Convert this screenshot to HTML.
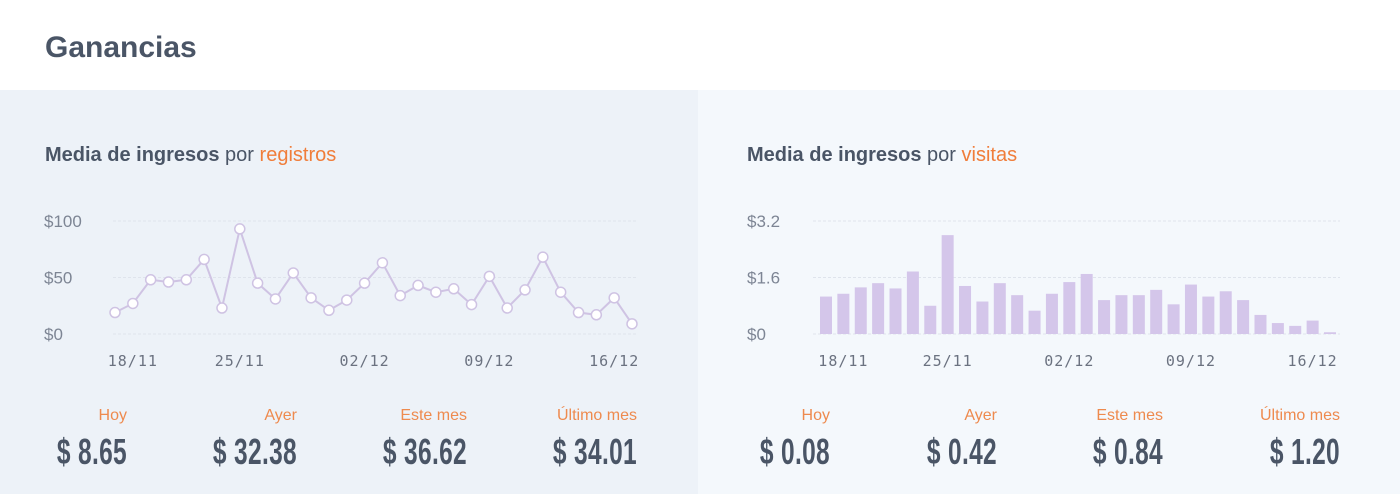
<!DOCTYPE html>
<html><head><meta charset="utf-8">
<style>
html,body{margin:0;padding:0;width:1400px;height:494px;overflow:hidden;background:#fff;font-family:"Liberation Sans",sans-serif}
#hdr{position:absolute;left:0;top:0;width:1400px;height:90px;background:#fff}
#title{position:absolute;left:45px;top:31px;font-size:30px;font-weight:bold;color:#4a5566;margin:0}
.panel{position:absolute;top:90px;height:404px}
#pl{left:0;width:698px;background:#edf2f8}
#pr{left:698px;width:702px;background:#f4f8fc}
.ptitle{position:absolute;top:54px;font-size:20px;color:#4a5566}
.ptitle b{font-weight:bold}
.ptitle .o{color:#f07d3a}
.stat{position:absolute;top:317px;width:160px;text-align:right}
.stat .l{font-size:16px;color:#ee8a4e;height:22px}
.stat .v{font-size:36px;font-weight:bold;color:#4a5566;transform:scaleX(0.68);transform-origin:right center;white-space:nowrap;margin-top:2px;letter-spacing:0.5px}
svg{position:absolute;left:0;top:0}
</style></head><body>
<div id="hdr"><h1 id="title">Ganancias</h1></div>

<div class="panel" id="pl">
  <div class="ptitle" style="left:45px"><b>Media de ingresos</b> por <span class="o">registros</span></div>
  <svg id="lineChart" width="698" height="404"></svg>
  <div class="stat" style="left:-33px"><div class="l">Hoy</div><div class="v">$ 8.65</div></div>
  <div class="stat" style="left:137px"><div class="l">Ayer</div><div class="v">$ 32.38</div></div>
  <div class="stat" style="left:307px"><div class="l">Este mes</div><div class="v">$ 36.62</div></div>
  <div class="stat" style="left:477px"><div class="l">Último mes</div><div class="v">$ 34.01</div></div>
</div>

<div class="panel" id="pr">
  <div class="ptitle" style="left:49px"><b>Media de ingresos</b> por <span class="o">visitas</span></div>
  <svg id="barChart" width="702" height="404"></svg>
  <div class="stat" style="left:-28px"><div class="l">Hoy</div><div class="v">$ 0.08</div></div>
  <div class="stat" style="left:139px"><div class="l">Ayer</div><div class="v">$ 0.42</div></div>
  <div class="stat" style="left:305px"><div class="l">Este mes</div><div class="v">$ 0.84</div></div>
  <div class="stat" style="left:482px"><div class="l">Último mes</div><div class="v">$ 1.20</div></div>
</div>

<script>
const lineValues = [19,27,48,46,48,66,23,93,45,31,54,32,21,30,45,63,34,43,37,40,26,51,23,39,68,37,19,17,32,9];
const lineTicks = [0,50,100];
const lineTickLabels = ["$0","$50","$100"];
const barValues = [1.06,1.14,1.32,1.44,1.29,1.77,0.80,2.80,1.36,0.92,1.44,1.10,0.66,1.14,1.47,1.70,0.96,1.10,1.10,1.25,0.84,1.40,1.06,1.21,0.96,0.54,0.31,0.23,0.38,0.05];
const barTicks = [0,1.6,3.2];
const barTickLabels = ["$0","$1.6","$3.2"];
const dateLabels = ["18/11","25/11","02/12","09/12","16/12"];
const dateIndices = [1,7,14,21,28];

const NS="http://www.w3.org/2000/svg";
function mk(p,tag,attrs){const e=document.createElementNS(NS,tag);for(const k in attrs)e.setAttribute(k,attrs[k]);p.appendChild(e);return e;}

function axes(svg,gx0,gx1,y0,y1,max,ticks,labels,labelX,xOf){
  const yOf=v=>y0-(v/max)*(y0-y1);
  ticks.forEach((t,i)=>{
    const l=mk(svg,'line',{x1:gx0,x2:gx1,y1:yOf(t),y2:yOf(t),stroke:'#dfe4ec','stroke-width':1,'stroke-dasharray':'3,2'});
    
    
    const tx=mk(svg,'text',{x:labelX,y:yOf(t)+6,'font-size':17,fill:'#7d8594','font-family':'Liberation Sans, sans-serif'});
    tx.textContent=labels[i];
    
    
  });
  dateLabels.forEach((d,i)=>{
    const cx=xOf(dateIndices[i]);
    const tx=mk(svg,'text',{x:cx,y:y0+32,'font-size':15,fill:'#6b7280','text-anchor':'middle','letter-spacing':'1','font-family':'DejaVu Sans Mono, monospace'});
    tx.textContent=d;
    
    
  });
  return yOf;
}

(function(){
  const svg=document.getElementById('lineChart');
  const n=lineValues.length, xa=115, xb=632;
  const xOf=i=>xa+i*(xb-xa)/(n-1);
  const yOf=axes(svg,113,637,244,131,100,lineTicks,lineTickLabels,44,xOf);
  const pts=lineValues.map((v,i)=>xOf(i)+','+yOf(v)).join(' ');
  const pl=mk(svg,'polyline',{points:pts,fill:'none',stroke:'#cfc3e3','stroke-width':2});
  
  
  lineValues.forEach((v,i)=>{
    const c=mk(svg,'circle',{cx:xOf(i),cy:yOf(v),r:5,fill:'#fff',stroke:'#cfc3e3','stroke-width':1.5});
    
    
  });
})();

(function(){
  const svg=document.getElementById('barChart');
  const n=barValues.length, xa=826-698, xb=1330-698;
  const xOf=i=>xa+i*(xb-xa)/(n-1);
  const yOf=axes(svg,115,642,244,131,3.2,barTicks,barTickLabels,49,xOf);
  barValues.forEach((v,i)=>{
    const y=yOf(v);
    const r=mk(svg,'rect',{x:xOf(i)-6,y:y,width:12,height:244-y,fill:'#d4c6ea'});
    
    
  });
})();
</script>
</body></html>
